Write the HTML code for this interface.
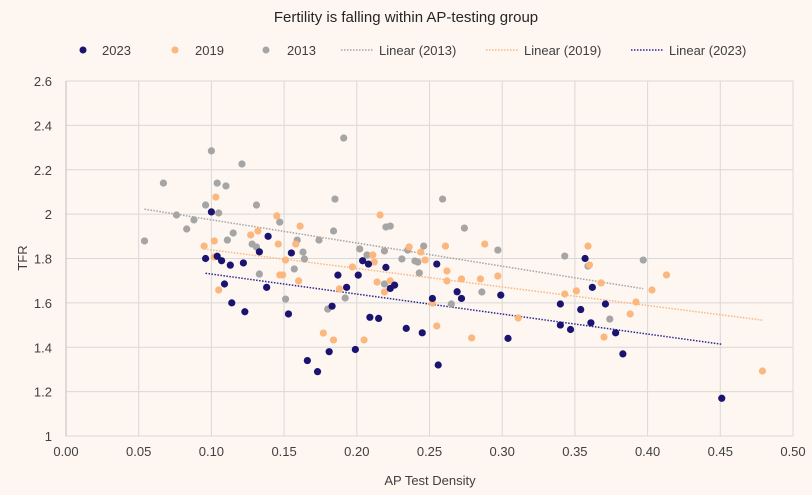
<!DOCTYPE html>
<html><head><meta charset="utf-8"><style>
html,body{margin:0;padding:0;background:#fdf6f1;}
svg{display:block;font-family:"Liberation Sans",sans-serif;}
</style></head><body>
<svg id="chart" width="812" height="495" viewBox="0 0 812 495">
<rect x="0" y="0" width="812" height="495" fill="#fdf6f1"/>
<text x="406" y="22" text-anchor="middle" font-size="15" fill="#262626">Fertility is falling within AP-testing group</text>
<g font-size="13" fill="#404040">
 <g><circle cx="83" cy="50" r="3.5" fill="#1a1470"/><text x="102" y="55">2023</text></g>
 <g><circle cx="175" cy="50" r="3.5" fill="#fbb77d"/><text x="195" y="55">2019</text></g>
 <g><circle cx="266" cy="50" r="3.5" fill="#a5a5a5"/><text x="287" y="55">2013</text></g>
 <g><line x1="341" y1="50" x2="373" y2="50" stroke="#a5a5a5" stroke-width="1.5" stroke-dasharray="1.5,1.5"/><text x="379" y="55">Linear (2013)</text></g>
 <g><line x1="486" y1="50" x2="518" y2="50" stroke="#fbb77d" stroke-width="1.5" stroke-dasharray="1.5,1.5"/><text x="524" y="55">Linear (2019)</text></g>
 <g><line x1="631" y1="50" x2="663" y2="50" stroke="#2a2890" stroke-width="1.5" stroke-dasharray="1.5,1.5"/><text x="669" y="55">Linear (2023)</text></g>
</g>
<g id="grid"></g>
<g id="axes"></g>
<g id="trends"></g>
<g id="points"></g>
<text x="0" y="0" transform="translate(27,258) rotate(-90)" text-anchor="middle" font-size="13" fill="#404040">TFR</text>
<text x="430" y="485" text-anchor="middle" font-size="13" fill="#404040">AP Test Density</text>
</svg>
<script>
const xTicks = [0,0.05,0.1,0.15,0.2,0.25,0.3,0.35,0.4,0.45,0.5];
const xTickLabels = ["0.00","0.05","0.10","0.15","0.20","0.25","0.30","0.35","0.40","0.45","0.50"];
const yTicks = [1,1.2,1.4,1.6,1.8,2,2.2,2.4,2.6];
const yTickLabels = ["1","1.2","1.4","1.6","1.8","2","2.2","2.4","2.6"];
const x2013 = [0.054,0.067,0.076,0.083,0.088,0.096,0.100,0.104,0.110,0.105,0.111,0.115,0.121,0.131,0.128,0.131,0.133,0.147,0.159,0.163,0.164,0.157,0.151,0.174,0.184,0.185,0.191,0.180,0.192,0.202,0.207,0.219,0.220,0.223,0.219,0.231,0.235,0.240,0.242,0.246,0.243,0.259,0.274,0.265,0.286,0.297,0.343,0.359,0.374,0.397];
const y2013 = [1.879,2.140,1.996,1.933,1.974,2.041,2.285,2.140,2.127,2.005,1.883,1.915,2.226,2.041,1.865,1.852,1.730,1.964,1.883,1.829,1.798,1.753,1.617,1.883,1.924,2.068,2.343,1.572,1.622,1.843,1.816,1.834,1.942,1.946,1.685,1.798,1.838,1.789,1.784,1.856,1.735,2.068,1.937,1.595,1.649,1.838,1.811,1.766,1.527,1.793];
const x2019 = [0.103,0.095,0.102,0.102,0.105,0.127,0.132,0.146,0.145,0.147,0.161,0.158,0.151,0.149,0.160,0.177,0.184,0.188,0.197,0.205,0.216,0.211,0.212,0.214,0.223,0.219,0.236,0.244,0.247,0.252,0.255,0.261,0.262,0.262,0.272,0.279,0.285,0.288,0.297,0.311,0.359,0.360,0.343,0.351,0.368,0.370,0.388,0.392,0.403,0.413,0.479];
const y2019 = [2.077,1.856,1.879,1.807,1.658,1.906,1.924,1.865,1.992,1.726,1.946,1.865,1.793,1.726,1.699,1.464,1.433,1.663,1.762,1.433,1.996,1.816,1.784,1.694,1.699,1.649,1.852,1.829,1.793,1.599,1.496,1.856,1.744,1.699,1.708,1.442,1.708,1.865,1.721,1.532,1.856,1.771,1.640,1.654,1.690,1.446,1.550,1.604,1.658,1.726,1.293];
const x2023 = [0.096,0.100,0.104,0.107,0.113,0.122,0.109,0.114,0.123,0.139,0.133,0.138,0.155,0.153,0.166,0.173,0.181,0.183,0.187,0.193,0.201,0.199,0.204,0.208,0.209,0.215,0.220,0.223,0.226,0.234,0.245,0.252,0.255,0.256,0.269,0.272,0.299,0.304,0.340,0.347,0.354,0.357,0.361,0.362,0.371,0.378,0.383,0.451,0.340];
const y2023 = [1.80,2.01,1.81,1.79,1.77,1.78,1.685,1.60,1.56,1.90,1.83,1.67,1.825,1.55,1.34,1.29,1.38,1.585,1.725,1.67,1.725,1.39,1.79,1.775,1.535,1.53,1.76,1.665,1.68,1.485,1.465,1.62,1.775,1.32,1.65,1.62,1.635,1.44,1.595,1.48,1.57,1.80,1.51,1.67,1.595,1.465,1.37,1.17,1.50];

const NS="http://www.w3.org/2000/svg";
const L=66,R=793,T=81,B=436;
const X0=0,X1=0.5,Y0=1,Y1=2.6;
function xs(v){return L+(v-X0)/(X1-X0)*(R-L);}
function ys(v){return B-(v-Y0)/(Y1-Y0)*(B-T);}
function mk(tag,attrs,parent){const e=document.createElementNS(NS,tag);for(const k in attrs)e.setAttribute(k,attrs[k]);parent.appendChild(e);return e;}
const grid=document.getElementById('grid'),axes=document.getElementById('axes');
xTicks.forEach((t,i)=>{
 const ln=mk('line',{x1:xs(t),x2:xs(t),y1:T,y2:B,stroke:'#d9d9d9','stroke-width':1},grid);
 
 
 const tx=mk('text',{x:xs(t),y:B+20,'text-anchor':'middle','font-size':13,fill:'#404040'},axes);
 tx.textContent=xTickLabels[i];
 
 
});
yTicks.forEach((t,i)=>{
 const ln=mk('line',{x1:L,x2:R,y1:ys(t),y2:ys(t),stroke:'#d9d9d9','stroke-width':1},grid);
 
 
 const tx=mk('text',{x:L-14,y:ys(t)+5,'text-anchor':'end','font-size':13,fill:'#404040'},axes);
 tx.textContent=yTickLabels[i];
 
 
});
const ax=mk('line',{x1:L,x2:L,y1:T,y2:B,stroke:'#bfbfbf','stroke-width':1},axes);



const series=[
 {xs:x2013,ys:y2013,c:'#a5a5a5',tc:'#a5a5a5',n:'2013'},
 {xs:x2019,ys:y2019,c:'#fbb77d',tc:'#fbb77d',n:'2019'},
 {xs:x2023,ys:y2023,c:'#1a1470',tc:'#2a2890',n:'2023'}
];
const trends=document.getElementById('trends'),pts=document.getElementById('points');
series.forEach(s=>{
 const n=s.xs.length;let sx=0,sy=0,sxx=0,sxy=0;
 for(let i=0;i<n;i++){sx+=s.xs[i];sy+=s.ys[i];sxx+=s.xs[i]*s.xs[i];sxy+=s.xs[i]*s.ys[i];}
 const m=(n*sxy-sx*sy)/(n*sxx-sx*sx),b=(sy-m*sx)/n;
 const a=Math.min(...s.xs),z=Math.max(...s.xs);
 const ln=mk('line',{x1:xs(a),y1:ys(m*a+b),x2:xs(z),y2:ys(m*z+b),stroke:s.tc,'stroke-width':1.5,'stroke-dasharray':'1.5,1.5'},trends);
 
 
});
series.forEach(s=>{
 for(let i=0;i<s.xs.length;i++){
  const c=mk('circle',{cx:xs(s.xs[i]),cy:ys(s.ys[i]),r:3.6,fill:s.c},pts);
  
  
 }
});
</script>
</body></html>
